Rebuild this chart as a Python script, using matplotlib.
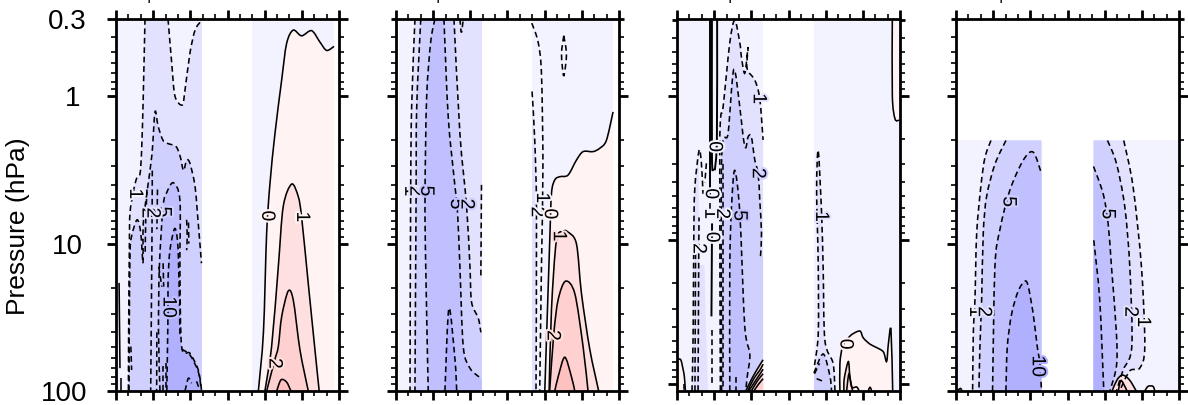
import matplotlib
matplotlib.use('Agg')
import matplotlib.pyplot as plt
import matplotlib.patheffects as pe
import numpy as np
from matplotlib.path import Path
from matplotlib.patches import PathPatch
from matplotlib.ticker import NullFormatter, FixedLocator

plt.rcParams['font.family'] = ['Liberation Sans', 'DejaVu Sans']

# shading per contour interval (wind, m/s)
BLUE1, BLUE2, BLUE5, BLUE10, BLUE20 = '#f3f3ff', '#e2e2ff', '#d0d0ff', '#c0c0ff', '#b0b0ff'
RED1, RED2, RED5, RED10 = '#fff3f3', '#ffe0e0', '#ffd0d0', '#ffc0c0'

yticks = [0.3, 1, 10, 100]
ylabels = ['0.3', '1', '10', '100']
xmajor = [-90, -60, -30, 0, 30, 60, 90]
xminor = [-80, -70, -50, -40, -20, -10, 10, 20, 40, 50, 70, 80]

a_m1 = [(-66.6, .3), (-68, 1), (-69.3, 2.3), (-70.6, 3.35), (-73.3, 3.6), (-76, 4.45), (-78.7, 6.2), (-79.2, 10), (-79.8, 40), (-80, 100)]
a_m1u = [(-48, .3), (-45, .6), (-42.4, 1), (-36.5, 1.15), (-34.3, .91), (-30.3, .51), (-26.2, .357), (-21.4, .31)]
a_m2 = [(-79.5, 100), (-79.3, 40), (-78.7, 12), (-77.5, 9), (-73, 6.9), (-70, 8.5), (-68.2, 13.6), (-68, 7.3), (-64.7, 4.3), (-61, 2.5),
        (-58.5, 1.28), (-56, 1.6), (-52, 2), (-48, 2.1), (-41.5, 2.2), (-38, 2.6), (-35.5, 3.2), (-33, 2.72), (-30.3, 2.86), (-26.2, 4.1), (-23.6, 7.3), (-21, 13.6)]
a_m5 = [(-54.5, 100), (-55.7, 40), (-55, 14.4), (-52, 5.6), (-49, 4.5), (-43.7, 3.87), (-38.4, 5.1), (-38.4, 15), (-37, 50), (-30.3, 55.5), (-23.6, 72), (-21, 98)]
a_m10 = [(-49, 100), (-48, 28.3), (-48, 17.7), (-46.4, 11), (-42.4, 7.9), (-39.7, 11.7), (-38.4, 42.7)]
a_m10b = [(-37, 52), (-30.3, 57), (-23.6, 74), (-21, 100)]
a_x = [[(-60.7, 3.2), (-61, 10), (-62, 100)], [(-33, 6.9), (-32.5, 9), (-33, 11.1)], [(-31.5, 7.2), (-31.2, 10)],
       [(-55.5, 14.4), (-53, 19.6)], [(-52, 13.6), (-51.5, 19.6)], [(-57, 40), (-57.2, 100)], [(-52, 68), (-52, 100)],
       [(-50, 65), (-50, 100)], [(-78, 50), (-77.4, 72)], [(-34.3, 100), (-31.6, 82), (-29, 88.6)], [(-25, 86), (-22.5, 98)],
       [(-65, 4.3), (-66, 7), (-66.5, 12)], [(-56.5, 4.3), (-57, 8)]]
a_0s = [[(-87.5, 18.5), (-86.8, 70)], [(-85.7, 82), (-85.7, 100)]]
a_0 = [(24.9, 100), (29, 40), (31.6, 8.5), (34.3, 3.9), (38.3, 1.8), (43.7, .78), (47.7, .44), (53, .357), (59.8, .39), (67.9, .36), (74.6, .43), (80, .49), (86, .46)]
a_1 = [(30.2, 100), (35.6, 50), (41, 14.4), (45, 5.6), (51.8, 3.95), (57.1, 4.8), (59.8, 6.6), (65.2, 18.7), (70.6, 52.7), (74, 100)]
a_2 = [(31.6, 100), (38, 62), (41, 50), (43.7, 31.4), (49, 21), (53.1, 24.2), (58.5, 52.7), (65.2, 100)]
a_5 = [(39.7, 100), (43.2, 84), (47.7, 87), (51.2, 100)]
a_labels = [('1', -75, 4.6, BLUE1), ('5', -52, 6.1, BLUE5), ('2', -65, 6.2, BLUE2), ('2', -61, 6.2, BLUE2), ('10', -48, 27, BLUE10),
            ('0', 31.6, 6.5, RED1), ('1', 59.8, 6.6, RED1), ('2', 37.5, 65, RED2)]

# ---- panel 2
b_m1 = [(-74.7, .3), (-77.4, 1.2), (-78.2, 5), (-78.7, 100)]
b_m2 = [(-70, .3), (-73.3, 1.2), (-73.8, 5), (-74.7, 100)]
b_m5 = [(-58.6, .3), (-62, .43), (-65.3, 1.03), (-66.6, 4.9), (-66, 14.4), (-64, 100)]
b_m5r = [(-51.3, .3), (-47.8, 1.4), (-42.4, 4.1), (-40.3, 6.2), (-38.4, 14.4), (-35.7, 50), (-30.3, 70), (-22.3, 81)]
b_m2r = [(-43.2, .3), (-38.4, 1.8), (-33, 5.6), (-30.3, 14.4), (-29, 25), (-23.6, 32), (-21.5, 40)]
b_m10 = [(-50.5, 100), (-47.3, 27.5), (-42.4, 61), (-41, 100)]
b_x = [[(-21, 4), (-21.5, 16.5)], [(-38.4, .3), (-37.2, .37), (-35.7, .3)], [(19.6, .32), (24.7, .43), (27.4, .7), (28.6, 3), (27.4, 14.4), (26, 100)]]
b_e = [(45.4, .39), (43.6, .52), (45.4, .73), (47.6, .52), (45.4, .39)]
b_n2 = [(19.8, .93), (22, 2), (23.4, 6.2), (23, 100)]
b_0 = [(30.1, 100), (34.1, 9.5), (35.5, 4.57), (38.2, 3.7), (42.2, 3.52), (48.9, 3.43), (55.6, 2.72), (61, 2.38), (69, 2.38), (74.4, 2.26), (79.8, 2), (85.2, 1.28)]
b_1 = [(33.6, 100), (35.5, 28), (39.5, 9.5), (45, 8.3), (48.3, 8.3), (55.6, 10), (59.7, 21.8), (66.4, 52), (73.6, 100)]
b_2 = [(34, 100), (37.4, 40.6), (40.9, 24), (46.8, 18), (54.3, 21.8), (61, 50), (65, 100)]
b_5 = [(38.2, 100), (40.9, 80), (46.2, 59), (51.6, 80), (54.3, 100)]
b_labels = [('1', -79, 4.4, BLUE1), ('2', -74.8, 4.4, BLUE2), ('5', -66, 4.4, BLUE10), ('5', -42, 5.4, BLUE10), ('2', -33.5, 5.4, BLUE5),
            ('2', 23.2, 6.1, BLUE1), ('1', 27.4, 4.9, BLUE1), ('0', 33.8, 6.3, RED1), ('1', 41, 8.9, RED2), ('2', 36, 42, RED2)]

# ---- panel 3 (axis runs a little below 100 hPa)
c_m1 = [(-55, 112), (-55.5, 2.8), (-54.7, 1.4), (-52.8, 1.2), (-47.4, .43), (-43.4, .3), (-39.3, .43), (-38, .54), (-35.3, .7), (-32.6, .46),
        (-33.4, .65), (-27.2, .78), (-23.2, 1.05), (-20.5, 2.03)]
c_m2 = [(-54, 112), (-54, 2.8), (-48.8, 1.83), (-44.2, .66), (-39.3, 1.2), (-36.6, 1.93), (-34.5, 2.3), (-32.6, 1.93), (-30, 1.93), (-27.2, 2.8),
        (-24.5, 3.46), (-23.2, 5.3), (-21.8, 9), (-22.6, 13)]
c_m5 = [(-47.4, 112), (-47.4, 15.4), (-46, 5.9), (-43.4, 3.3), (-39.3, 6.5), (-35.3, 40), (-31.2, 62), (-33.4, 90), (-34.5, 112)]
c_lobe = [(-77.9, 112), (-77, 47), (-76.5, 11), (-75.7, 4.5), (-72.2, 2.4), (-70.3, 2.95), (-69, 4.8)]
c_x = [[(-73, 112), (-72.5, 15), (-72.2, 7)], [(-75.5, 112), (-75, 11)], [(-62, 42), (-62, 100)], [(-53, 3), (-53, 112)],
       [(-42, 90), (-42, 112)], [(-66.3, 2.95), (-67.5, 4)], [(-84, 100), (-84, 112)], [(-63, 5.6), (-63, 7)]]
c_0 = [[(-63.2, .3), (-63.2, 5.2)], [(-61.8, .3), (-61.8, 2.6), (-60.8, 3.3)], [(-57.6, .3), (-57.8, 2), (-59.5, 3.3)], [(-61.7, 7.7), (-62.2, 34)]]
c_sw = [(-90, 68), (-87, 68), (-85, 80), (-84, 90), (-83.2, 112)]
c_se = [(-34.5, 112), (-29, 90), (-24, 76), (-20.5, 68)]
c_se2 = [(-30, 112), (-25, 95), (-20.5, 85)]
c_se3 = [(-28, 112), (-24, 100), (-20.5, 92)]
c_se4 = [(-33, 112), (-28, 92), (-23, 80), (-20.5, 73)]
c_se5 = [(-32, 112), (-27, 96), (-22.5, 84), (-20.5, 79)]
c_n1 = [(21, 74), (24, 45), (24, 15), (22.7, 4.5), (24, 2.4), (26.7, 6.5), (28, 16), (29.4, 50), (36, 72), (37.5, 112)]
c_n2 = [(20.5, 84), (28, 62), (33.4, 88), (34.8, 112)]
c_nx = [[(22.7, 92), (28, 96)], [(21, 85), (25, 72)]]
c_n0 = [(83.8, .3), (83.8, 1), (86, 1.45), (89.2, 1.48)]
c_n0b = [(41.5, 112), (41.5, 72), (43.7, 55), (48.3, 48), (51.8, 45), (57.7, 43), (60.4, 48), (65.8, 53), (71.2, 56), (76.6, 60), (79.2, 70), (80.6, 53), (82.7, 42), (84.1, 112)]
c_n1b = [(44.7, 112), (45, 92), (48.3, 70), (49.6, 90), (51.8, 112)]
c_n2b = [(46.9, 112), (48.8, 85), (51, 105), (55, 105), (57.1, 112)]
c_n5b = [(64.4, 112), (65.8, 105), (67.1, 112)]
c_labels = [('0', -60, 2.26, BLUE1), ('0', -63, 4.8, BLUE1), ('0', -62.2, 9.6, BLUE1), ('1', -63.6, 6.6, BLUE1), ('2', -54, 6.6, BLUE1),
            ('5', -40, 6.8, BLUE10), ('2', -25.2, 3.46, BLUE5), ('1', -24.5, 1.05, BLUE2), ('2', -73, 11.5, BLUE1), ('1', 25.9, 6.9, BLUE2), ('0', 45.6, 53, RED1)]

# ---- panel 4, data only below 2 hPa
d_m1 = [(-61.8, 2), (-66.6, 2.6), (-69.8, 4), (-73.3, 8.5), (-74.7, 24), (-76, 40), (-76.6, 100)]
d_m2 = [(-49.7, 2), (-58.6, 2.9), (-65.3, 4.8), (-68, 8.5), (-69.3, 24), (-70.7, 50), (-71.5, 100)]
d_m5 = [(-60.5, 100), (-58.6, 14.4), (-54.5, 8), (-46.5, 4.34), (-35.7, 2.72), (-27.7, 2.4), (-21, 3.35)]
d_m10 = [(-49.7, 100), (-48.6, 50), (-45.1, 30), (-39.8, 21), (-34.4, 18), (-31.7, 19.5), (-27.7, 30), (-24.4, 50), (-22.3, 65), (-21, 100)]
d_n5 = [(21, 3), (28.8, 4.6), (32.8, 7.3), (35.5, 14.4), (39.5, 40.6), (39.5, 68), (34.2, 100)]
d_n10 = [(21.2, 9.5), (26, 24), (29.3, 100)]
d_n2 = [(32.3, 2), (39.5, 2.86), (46.2, 5.6), (50.3, 14.4), (51.9, 50), (44.9, 72), (39.5, 100)]
d_n1 = [(45.4, 2), (52.9, 4.1), (59.7, 14.4), (62.4, 50), (58.3, 70), (50.3, 73), (42, 100)]
d_p1 = [(36, 100), (40, 84), (44.5, 78), (50, 84), (55.5, 100)]
d_p2 = [(41, 100), (43, 85), (46, 92), (48, 100)]
d_p3 = [(62.4, 100), (65, 93), (69, 93), (70.5, 100)]
d_p4 = [(-89, 100), (-86.5, 96), (-85, 100)]
d_labels = [('1', -75, 29, BLUE1), ('2', -68, 29, BLUE2), ('5', -48, 5.2, BLUE5), ('10', -24.5, 68, BLUE20),
            ('5', 32, 6.3, BLUE5), ('2', 50.3, 29, BLUE2), ('1', 60.5, 34, BLUE1)]

fig = plt.figure(figsize=(11.88, 4.05), dpi=100)


def new_axes(left, ymin, ymax, ylab=False):
    ax = fig.add_axes([left / 1188, 14 / 405, 223 / 1188, 372 / 405])
    ax.set_yscale('log')
    ax.set_xlim(-90, 90)
    ax.set_ylim(ymax, ymin)
    ax.xaxis.set_major_locator(FixedLocator(xmajor))
    ax.xaxis.set_minor_locator(FixedLocator(xminor))
    ax.set_yticks(yticks)
    ax.set_yticklabels(ylabels if ylab else [])
    ax.yaxis.set_minor_locator(FixedLocator([.4, .5, .6, .7, .8, .9, 2, 3, 4, 5, 6, 7, 8, 9, 20, 30, 40, 50, 60, 70, 80, 90]))
    ax.yaxis.set_minor_formatter(NullFormatter())
    ax.tick_params(which='major', direction='out', length=6.5, width=2.0, top=True, right=True, labelsize=20)
    ax.tick_params(which='minor', direction='out', length=3.5, width=1.2, top=True, right=True)
    ax.tick_params(axis='x', labelbottom=False)
    ax.yaxis.get_major_ticks()[0].tick1line.set_markersize(3.5)
    ax.yaxis.get_major_ticks()[0].tick2line.set_markersize(3.5)
    for s in ax.spines.values():
        s.set_linewidth(2.0)
        s.set_zorder(10)
    return ax


def curve(line):
    # bezier run through the read points, worked out in lat / log p
    pts = np.array([(q[0], np.log10(q[1])) for q in line])
    verts, codes = [pts[0]], [Path.MOVETO]
    n = len(pts)
    if n == 2:
        verts.append(pts[1])
        codes.append(Path.LINETO)
    else:
        for i in range(n - 1):
            d0 = (pts[i + 1] - pts[max(i - 1, 0)]) / 6.5
            d1 = (pts[min(i + 2, n - 1)] - pts[i]) / 6.5
            verts += [pts[i] + d0, pts[i + 1] - d1, pts[i + 1]]
            codes += [Path.CURVE4] * 3
    verts = np.array(verts)
    verts[:, 1] = 10 ** verts[:, 1]
    return verts, codes


def region(ax, color, *pieces):
    # pieces are smoothed on their own and joined with straight edges
    all_v, all_c = [], []
    for piece in pieces:
        v, c = curve(piece) if len(piece) > 1 else (np.array(piece, dtype=float), [Path.LINETO])
        if all_c:
            c = [Path.LINETO] + c[1:]
        all_v.append(v)
        all_c += c
    ax.add_patch(PathPatch(Path(np.vstack(all_v), all_c), facecolor=color, edgecolor='none', lw=0))


def dashed(ax, line):
    v, c = curve(line)
    ax.add_patch(PathPatch(Path(v, c), fill=False, edgecolor='k', lw=1.15, ls=(0, (3.6, 2.3))))


def solid(ax, line, lw=1.15):
    v, c = curve(line)
    ax.add_patch(PathPatch(Path(v, c), fill=False, edgecolor='k', lw=lw))


def put_labels(ax, labels):
    for txt, lat, p, bg in labels:
        ax.text(lat, p, txt, rotation=-90, fontsize=14, ha='center', va='center', rotation_mode='anchor', zorder=6,
                path_effects=[pe.withStroke(linewidth=3, foreground=bg)])


# panel 1
ax = new_axes(116, .3, 100, ylab=True)
ax.axvspan(-90, -20.6, color=BLUE1, lw=0)
ax.axvspan(20, 86, color=BLUE1, lw=0)
region(ax, BLUE2, a_m1, [(-20.6, 100)], [(-20.6, .3)])
region(ax, BLUE1, a_m1u, [(-20.6, .3)])
region(ax, BLUE5, a_m2, [(-20.6, 13.6)], [(-20.6, 100)])
region(ax, BLUE10, a_m5, [(-20.6, 100)])
region(ax, BLUE20, a_m10, a_m10b, [(-20.6, 100)])
region(ax, RED1, a_0, [(86, 100)])
region(ax, RED2, a_1)
region(ax, RED5, a_2)
region(ax, RED10, a_5)
for ln in [a_m1, a_m1u, a_m2, a_m5, a_m10, a_m10b] + a_x:
    dashed(ax, ln)
for ln in a_0s + [a_0, a_1, a_2, a_5]:
    solid(ax, ln)
put_labels(ax, a_labels)
ax.set_ylabel('Pressure (hPa)', fontsize=19, labelpad=0)
ax.yaxis.set_label_coords(-86 / 223, 165 / 372)
for tick, pad in zip(ax.yaxis.get_major_ticks(), [15, 19, 17, 14]):
    tick.set_pad(pad)

# panel 2
ax = new_axes(396, .3, 100)
ax.axvspan(-87.6, -20.6, color=BLUE1, lw=0)
ax.axvspan(19.8, 85.2, color=BLUE1, lw=0)
region(ax, BLUE2, b_m1, [(-20.6, 100)], [(-20.6, .3)])
region(ax, BLUE5, b_m2, [(-20.6, 100)], [(-20.6, .3)])
region(ax, BLUE2, b_m2r, [(-20.6, 40)], [(-20.6, .3)])
region(ax, BLUE10, b_m5r, [(-20.6, 85)], [(-20.6, 100)], b_m5[::-1])
region(ax, BLUE20, b_m10)
region(ax, BLUE2, b_n2, [(19.8, 100)])
region(ax, RED1, b_0, [(85.2, 100)])
region(ax, RED2, b_1)
region(ax, RED5, b_2)
region(ax, RED10, b_5)
for ln in [b_m1, b_m2, b_m5, b_m5r, b_m2r, b_m10, b_e, b_n2] + b_x:
    dashed(ax, ln)
for ln in [b_0, b_1, b_2, b_5]:
    solid(ax, ln)
put_labels(ax, b_labels)

# panel 3
ax = new_axes(677, .294, 112)
ax.axvspan(-90, -20.5, color=BLUE1, lw=0)
ax.axvspan(20.5, 90, color=BLUE1, lw=0)
region(ax, BLUE2, c_m1, [(-20.5, 112)])
region(ax, BLUE5, c_m2, [(-20.5, 13)], [(-20.5, 112)])
region(ax, BLUE10, c_m5)
region(ax, BLUE2, c_lobe, [(-67, 30)], [(-65, 112)])
region(ax, BLUE1, [(-72.5, 15), (-72.5, 15)], [(-65, 15)], [(-65, 2.5)], [(-72.2, 2.5)])
region(ax, RED1, c_sw, [(-90, 112)])
region(ax, RED2, c_se, [(-20.5, 112)])
region(ax, RED5, c_se2, [(-20.5, 112)])
region(ax, BLUE2, c_n1)
region(ax, BLUE5, c_n2, [(20.5, 112)])
region(ax, RED1, c_n0, [(90, 1.48)], [(90, .294)], [(83.8, .294)])
region(ax, RED1, c_n0b)
region(ax, RED2, c_n1b)
for ln in [c_m1, c_m2, c_m5, c_lobe, c_n1, c_n2] + c_x + c_nx:
    dashed(ax, ln)
for ln in c_0:
    solid(ax, ln, lw=1.4)
for ln in [c_sw, c_se, c_se2, c_se3, c_se4, c_se5, c_n0, c_n0b, c_n1b, c_n2b, c_n5b]:
    solid(ax, ln)
put_labels(ax, c_labels)

# panel 4
ax = new_axes(956, .3, 100)
ax.fill_between([-89.5, -21], 2, 100, color=BLUE1, lw=0)
ax.fill_between([21, 90], 2, 100, color=BLUE1, lw=0)
region(ax, BLUE2, d_m1, [(-21, 100)], [(-21, 2)])
region(ax, BLUE5, d_m2, [(-21, 100)], [(-21, 2)])
region(ax, BLUE10, d_m5, [(-21, 100)])
region(ax, BLUE20, d_m10)
region(ax, BLUE2, d_n1, [(21, 100)], [(21, 2)])
region(ax, BLUE5, d_n2, [(21, 100)], [(21, 2)])
region(ax, BLUE10, d_n5, [(21, 100)])
region(ax, BLUE20, d_n10, [(21, 100)])
region(ax, RED2, d_p1)
region(ax, RED5, d_p2)
region(ax, RED1, d_p3)
for ln in [d_m1, d_m2, d_m5, d_m10, d_n5, d_n10, d_n2, d_n1]:
    dashed(ax, ln)
for ln in [d_p1, d_p2, d_p3, d_p4]:
    solid(ax, ln)
put_labels(ax, d_labels)

# clipped remains of the panel titles along the top edge
for px in [149, 438, 730, 1001]:
    fig.text(px / 1188, 1 - 3 / 405, '|', fontsize=12, ha='center', va='bottom')

fig.savefig('out.png', dpi=100)
